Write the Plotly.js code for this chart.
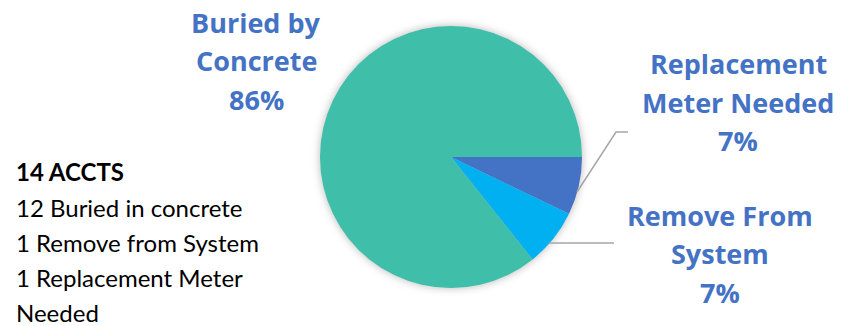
<!DOCTYPE html>
<html><head><meta charset="utf-8">
<script src="https://cdn.plot.ly/plotly-3.0.1.min.js"></script>
<style>html,body{margin:0;padding:0;background:#fff}#chart{width:845px;height:326px}
.pielayer{filter:drop-shadow(0 0 4px rgba(0,0,0,0.28))}</style>
</head><body><div id="chart"></div>
<script>
const categories = ["Replacement Meter Needed", "Remove From System", "Buried by Concrete"];
const labelLines = [["Replacement", "Meter Needed"], ["Remove From", "System"], ["Buried by", "Concrete"]];
const counts = [1, 1, 12];
const colors = ["#4472C4", "#00B0F0", "#3FBFAA"];
const noteTitle = "14 ACCTS";
const noteLines = ["12 Buried in concrete", "1 Remove from System", "1 Replacement Meter", "Needed"];

const W = 845, H = 326;
const px = x => x / W, py = y => 1 - y / H;
const total = counts.reduce((a, b) => a + b, 0);
const pct = counts.map(v => Math.round(v / total * 100) + "%");

const cx = 451, cy = 157, r = 131;
const trace = {
  type: "pie", values: counts, labels: categories, sort: false, direction: "clockwise",
  rotation: 90, textinfo: "none", hoverinfo: "label+value+percent",
  marker: {colors: colors, line: {width: 0}},
  domain: {x: [px(cx - r), px(cx + r)], y: [py(cy + r), py(cy - r)]},
  showlegend: false
};

const labelFont = {family: "'Open Sans', sans-serif", size: 27, color: "#4472C4", weight: 700};
const labelPos = [[738, 64], [720, 215], [256, 22]];
const lineGap = 38.5;
const annotations = [];
labelLines.forEach((lines, i) => {
  const all = lines.concat([pct[i]]);
  all.forEach((t, j) => {
    annotations.push({xref: "paper", yref: "paper", x: px(labelPos[i][0]), y: py(labelPos[i][1] + j * lineGap),
      text: "<b>" + t + "</b>", showarrow: false, xanchor: "center", yanchor: "middle", font: labelFont});
  });
});
const noteFont = {family: "Lato, 'Open Sans', sans-serif", size: 24, color: "#000"};
[("<b>" + noteTitle + "</b>")].concat(noteLines).forEach((t, j) => {
  annotations.push({xref: "paper", yref: "paper", x: px(14), y: py(172 + j * 35), text: t, showarrow: false,
    xanchor: "left", yanchor: "middle", font: noteFont});
});

const lc = {color: "#A6A6A6", width: 1.5};
const shapes = [
  {type: "path", xref: "paper", yref: "paper", line: lc,
   path: `M ${px(577)} ${py(192)} L ${px(616)} ${py(132)} L ${px(628)} ${py(132)}`},
  {type: "line", xref: "paper", yref: "paper", line: lc, x0: px(549), y0: py(243), x1: px(614), y1: py(243)}
];

Plotly.newPlot("chart", [trace], {
  width: W, height: H, margin: {l: 0, r: 0, t: 0, b: 0},
  paper_bgcolor: "#fff", plot_bgcolor: "#fff", annotations: annotations, shapes: shapes
}, {displayModeBar: false, staticPlot: true});
</script></body></html>
